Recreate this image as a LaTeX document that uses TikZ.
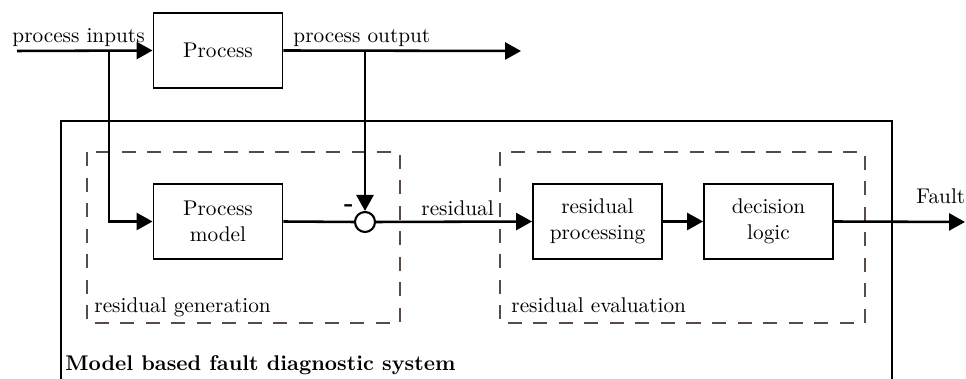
\documentclass[tikz,border=0pt]{standalone}
\usetikzlibrary{arrows.meta}
\definecolor{dashcol}{RGB}{88,76,70}
\begin{document}
\begin{tikzpicture}[x=0.47pt,y=-0.47pt,
  blk/.style={draw,line width=0.9pt,minimum width=129*0.47pt,minimum height=75*0.47pt,align=center,inner sep=1pt},
  wire/.style={line width=1.2pt},
  arr/.style={line width=1.2pt,-{Triangle[length=7.5pt,width=8pt]}},
  grp/.style={draw=dashcol,line width=1.3pt,dash pattern=on 6.6pt off 5.4pt},
  lbl/.style={anchor=base west,inner sep=0pt},
  sumnode/.style={draw,circle,line width=1pt,fill=white,minimum size=20*0.47pt,inner sep=0pt}]
\useasboundingbox (0,0) rectangle (966,379);
% outer system frame
\coordinate (fbl) at (61,379);
\coordinate (ftl) at (61,121);
\coordinate (ftr) at (892,121);
\coordinate (fbr) at (892,379);
\draw[line width=0.5pt] (fbl) -- (ftl) -- (ftr) -- (fbr);
% dashed groups
\draw[grp] (87,152) rectangle (400,323);
\draw[grp] (500,152) rectangle (865,323);
% blocks
\node[blk] (proc) at (218,50.5) {Process};
\node[blk] (model) at (218,221.5) {Process\\model};
\node[blk] (rp) at (597.5,221.5) {residual\\processing};
\node[blk] (dl) at (768.5,221.5) {decision\\logic};
\node[sumnode] (sum) at (365,222) {};
% coordinates
\coordinate (in) at (17,51);
\coordinate (inb) at (109,51);
\coordinate (outend) at (521,51);
\coordinate (outb) at (365,51);
\coordinate (fault) at (965,222);
% connectors
\draw[arr] (in) -- (proc.west);
\draw[arr] (inb) |- (model.west);
\draw[arr] (proc.east) -- (outend);
\draw[arr] (outb) -- (sum.north);
\draw[wire] (model.east) -- (sum.west);
\draw[arr] (sum.east) -- (rp.west);
\draw[arr] (rp.east) -- (dl.west);
\draw[arr] (dl.east) -- (fault);
% labels
\node[lbl] (tin) at (12,43) {process inputs};
\node[lbl] (tout) at (293,43) {process output};
\node[lbl] (tres) at (421,216) {residual};
\node[inner sep=0pt] (tminus) at (349,208) {\large\bfseries -};
\node[lbl] (tfault) at (916,204) {Fault};
\node[lbl] (tgen) at (94,313) {residual generation};
\node[lbl] (teval) at (511,313) {residual evaluation};
\node[lbl] (tsys) at (65,371) {\bfseries Model based fault diagnostic system};
\end{tikzpicture}
\end{document}
